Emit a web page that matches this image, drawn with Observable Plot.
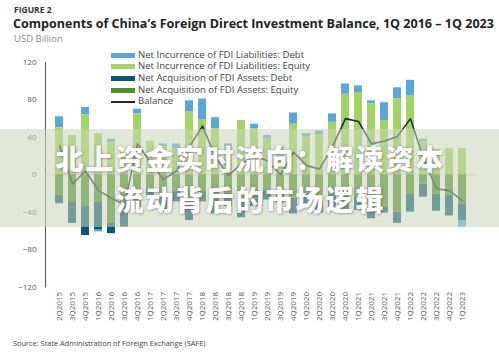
<!DOCTYPE html>
<html>
<head>
<meta charset="utf-8">
<script src="https://cdn.jsdelivr.net/npm/d3@7"></script>
<script src="https://cdn.jsdelivr.net/npm/@observablehq/plot@0.6"></script>
<style>
  html, body { margin: 0; padding: 0; background: #fff; }
  #root { position: relative; width: 499px; height: 356px; overflow: hidden; font-family: "Open Sans", "Noto Sans", sans-serif; }
  .abs { position: absolute; white-space: nowrap; }
  #fig { left: 14px; top: 4px; font-size: 8.5px; font-weight: 700; color: #333; }
  #title { left: 13px; top: 15.3px; font-size: 12.55px; font-weight: 700; color: #222; }
  #sub { left: 14px; top: 31.5px; font-size: 9.5px; color: #8a8a8a; }
  #source { left: 13px; top: 338px; font-size: 7.4px; color: #444; }
  #chart { left: 0; top: 50px; }
  .leg { position: absolute; left: 111px; font-size: 9.6px; color: #444; line-height: 10px; }
  .leg .sw { position: absolute; left: 0; width: 24px; height: 5px; top: 3px; }
  .leg .ln { position: absolute; left: 0; width: 24px; height: 1.5px; top: 5px; background: #1c2b39; }
  .leg span.t { position: absolute; left: 27px; top: 0; white-space: nowrap; }
  #band { left: 0; top: 128.5px; width: 499px; height: 98px; background: rgba(200, 213, 182, 0.55); }
  .wm { left: 0; width: 499px; text-align: center; color: #fff; font-family: "Noto Sans CJK SC", sans-serif; font-weight: 900; font-size: 28px; line-height: 28px; letter-spacing: 2px; text-indent: 2px; text-shadow: 0 0 3px rgba(60,60,60,0.35), 1px 1px 2px rgba(60,60,60,0.25); }
  svg [aria-label="y-axis"] path.domain, svg [aria-label="y-axis line"] * { stroke: #c4c4c4; }
</style>
</head>
<body>
<div id="root">
  <div class="abs" id="fig">FIGURE 2</div>
  <div class="abs" id="title">Components of China’s Foreign Direct Investment Balance, 1Q 2016 – 1Q 2023</div>
  <div class="abs" id="sub">USD Billion</div>
  <div class="abs" id="chart"></div>
  <div id="legend"></div>
  <div class="abs" id="band"></div>
  <div class="abs wm" style="top:144px">北上资金实时流向：解读资本</div>
  <div class="abs wm" style="top:184.5px">流动背后的市场逻辑</div>
  <div class="abs" id="source">Source: State Administration of Foreign Exchange (SAFE)</div>
</div>
<script>
const quarters = ["2Q2015","3Q2015","4Q2015","1Q2016","2Q2016","3Q2016","4Q2016","1Q2017","2Q2017","3Q2017","4Q2017","1Q2018","2Q2018","3Q2018","4Q2018","1Q2019","2Q2019","3Q2019","4Q2019","1Q2020","2Q2020","3Q2020","4Q2020","1Q2021","2Q2021","3Q2021","4Q2021","1Q2022","2Q2022","3Q2022","4Q2022","1Q2023"];
const liabDebt    = [12, 0, 8, -2, 4, 0, 5, 0, 3, 5, 12, 22, 12, 3, 0, 5, 4, 2, 12, 4, 4, 9, 11, 7, 3, 19, 12, 17, 3, 0, 0, -7];
const liabEquity  = [50, 42, 64, 44, 34, 24, 65, 36, 30, 28, 67, 59, 49, 30, 58, 49, 38, 28, 54, 40, 43, 56, 86, 88, 76, 58, 81, 84, 35, 27, 28, 28];
const assetDebt   = [-9, -23, -31, -30, -11, -26, -13, -9, -14, -11, -19, -11, -16, -14, -18, -14, -11, -12, -17, -14, -10, -14, -15, -15, -12, -6, -12, -19, -14, -18, -22, -18];
const assetEquity = [-22, -29, -34, -29, -52, -30, -24, -14, -24, -18, -30, -18, -26, -20, -28, -20, -16, -18, -25, -20, -31, -21, -22, -23, -35, -35, -40, -21, -10, -21, -22, -31];
const balance     = [31, -10, 4, -17, -25, -32, 33, 13, -5, 4, 30, 52, 19, -1, 12, 20, 15, 0, 24, 10, 6, 30, 60, 57, 33, 36, 41, 60, 17, -15, -17, -28];
const yTicks = [-120, -80, -40, 0, 40, 80, 120];

const seriesNames = [
  "Net Incurrence of FDI Liabilities: Debt",
  "Net Incurrence of FDI Liabilities: Equity",
  "Net Acquisition of FDI Assets: Debt",
  "Net Acquisition of FDI Assets: Equity"
];
const seriesColors = ["#5ba6d8", "#a3d364", "#0c5478", "#4e8f2e"];
const seriesValues = [liabDebt, liabEquity, assetDebt, assetEquity];
// stacking order from the zero line outward
const stackOrder = [seriesNames[1], seriesNames[3], seriesNames[2], seriesNames[0]];

const rows = [];
seriesNames.forEach((s, k) => quarters.forEach((q, i) => rows.push({q, s, v: seriesValues[k][i]})));
const balRows = quarters.map((q, i) => ({q, v: balance[i]}));

const chart = Plot.plot({
  width: 499,
  height: 275,
  marginTop: 12,
  marginBottom: 38.5,
  marginLeft: 45,
  marginRight: 23.3,
  style: {fontFamily: "'Open Sans', 'Noto Sans', sans-serif", fontSize: "8px", color: "#555", background: "transparent"},
  x: {type: "band", domain: quarters, paddingInner: 0.42, paddingOuter: 0.21, label: null, tickRotate: -90, tickSize: 0, tickPadding: 5},
  y: {domain: [-120, 120], ticks: yTicks, label: null, tickSize: 0, tickPadding: 9, line: true},
  color: {domain: seriesNames, range: seriesColors},
  marks: [
    Plot.ruleY([0], {stroke: "#d6d6d6"}),
    Plot.barY(rows, {x: "q", y: "v", fill: "s", order: stackOrder}),
    Plot.line(balRows, {x: "q", y: "v", stroke: "#1c2b39", strokeWidth: 1.6})
  ]
});
document.getElementById("chart").appendChild(chart);

// legend
const legend = document.getElementById("legend");
const legItems = seriesNames.map((n, i) => ({n, c: seriesColors[i], line: false})).concat([{n: "Balance", c: "#1c2b39", line: true}]);
const legTops = [49.5, 61.2, 72.9, 84.5, 96.2];
legItems.forEach((it, i) => {
  const d = document.createElement("div");
  d.className = "leg";
  d.style.top = legTops[i] + "px";
  d.innerHTML = (it.line ? `<div class="ln"></div>` : `<div class="sw" style="background:${it.c}"></div>`) + `<span class="t">${it.n}</span>`;
  legend.appendChild(d);
});
</script>
</body>
</html>
